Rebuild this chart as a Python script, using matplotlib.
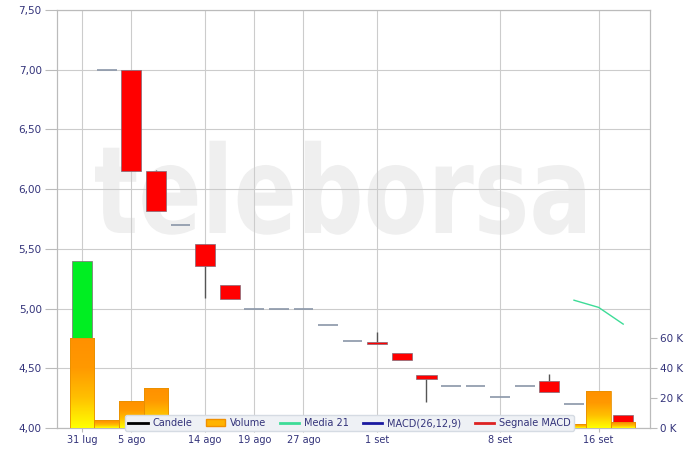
import numpy as np
import matplotlib.pyplot as plt
from matplotlib.lines import Line2D
from matplotlib.patches import Patch, PathPatch
from matplotlib.textpath import TextPath
from matplotlib.font_manager import FontProperties
from matplotlib.transforms import Affine2D
from matplotlib.colors import LinearSegmentedColormap


## DATA
tick_pos = [0, 2, 5, 7, 9, 12, 17, 21]
tick_labels = ["31 lug", "5 ago", "14 ago", "19 ago", "27 ago", "1 set", "8 set", "16 set"]

opens = [4.45, 7.00, 7.00, 6.15, 5.70, 5.54, 5.20, 5.00, 5.00, 5.00, 4.865, 4.725,
         4.722, 4.625, 4.446, 4.354, 4.354, 4.26, 4.354, 4.395, 4.20, 4.12, 4.11]
closes = [5.40, 7.00, 6.155, 5.818, 5.70, 5.356, 5.08, 5.00, 5.00, 5.00, 4.865, 4.725,
          4.70, 4.57, 4.41, 4.354, 4.354, 4.26, 4.354, 4.30, 4.20, 4.10, 4.05]
highs = [5.40, 7.00, 7.00, 6.16, 5.70, 5.54, 5.20, 5.00, 5.00, 5.00, 4.865, 4.725,
         4.806, 4.625, 4.446, 4.354, 4.354, 4.26, 4.354, 4.45, 4.20, 4.12, 4.11]
lows = [4.45, 7.00, 6.155, 5.818, 5.70, 5.085, 5.08, 5.00, 5.00, 5.00, 4.865, 4.725,
        4.70, 4.57, 4.22, 4.354, 4.354, 4.26, 4.354, 4.30, 4.20, 4.10, 4.05]
volumes = [60000, 5600, 18000, 26900, 0, 0, 0, 0, 0, 0, 0, 0,
           0, 0, 0, 0, 0, 0, 0, 0, 2700, 24700, 4200]

media21_x = [20, 21, 22]
media21 = [5.07, 5.01, 4.87]

price_ticks = [4.0, 4.5, 5.0, 5.5, 6.0, 6.5, 7.0, 7.5]
vol_ticks = [0, 20000, 40000, 60000]

txt_color = "#33337a"
grid_color = "#cccccc"

fig = plt.figure(figsize=(7, 4.51), dpi=100)
W, H = 700, 451
ax = fig.add_axes([57 / W, (H - 428) / H, 593 / W, 418 / H])

# watermark
prop = FontProperties(family="DejaVu Sans", weight="bold")
tp = TextPath((0, 0), "teleborsa", size=1, prop=prop)
ext = tp.get_extents()
x0, y0 = (95 - 57) / 593, (428 - 233) / 418
sx, sy = (490 / 593) / ext.width, (94 / 418) / ext.height
tr = Affine2D().translate(-ext.x0, 0).scale(sx, sy).translate(x0, y0)
ax.add_patch(PathPatch(tr.transform_path(tp), facecolor="#efefef", edgecolor="none",
                       transform=ax.transAxes, zorder=0.2))

# candles
x = np.arange(len(opens))
for i in x:
    o, c, h, l = opens[i], closes[i], highs[i], lows[i]
    top, bot = max(o, c), min(o, c)
    if h > top:
        ax.vlines(i, top, h, color="#555555", lw=1, zorder=3)
    if l < bot:
        ax.vlines(i, l, bot, color="#555555", lw=1, zorder=3)
    if abs(o - c) < 1e-6:
        ax.hlines(o, i - 0.4, i + 0.4, color="#8a96a8", lw=1.2, zorder=3)
    else:
        col = "#00ee22" if c > o else "#ff0000"
        ax.bar(i, top - bot, bottom=bot, width=0.82, color=col,
               edgecolor="#806a78", lw=0.5, zorder=4)

ax.plot(media21_x, media21, color="#3ddc97", lw=1, zorder=5)

ax.set_xlim(-1.02, 23.09)
ax.set_ylim(4.0, 7.5)
ax.set_yticks(price_ticks)
ax.set_yticklabels([f"{v:.2f}".replace(".", ",") for v in price_ticks])
ax.set_xticks(tick_pos)
ax.set_xticklabels(tick_labels)
ax.grid(True, color=grid_color, lw=0.8)
ax.tick_params(axis="y", colors="#bbbbbb", labelcolor=txt_color, labelsize=7.5, length=9, pad=2)
ax.tick_params(axis="x", colors="#bbbbbb", labelcolor=txt_color, labelsize=7, length=3, pad=2)
for s in ax.spines.values():
    s.set_color("#bbbbbb")

# volume with gradient bars (orange top, yellow bottom)
ax2 = ax.twinx()
vmax = 418 / 30 * 20000
grad = np.linspace(0, 1, 64).reshape(-1, 1)
cmap = LinearSegmentedColormap.from_list("vol", ["#ffff00", "#ffc000", "#ff9900", "#ff9000"])
bars = ax2.bar(x, volumes, width=1.0, facecolor="none", edgecolor="#e89000", lw=0.6, zorder=6)
for b, v in zip(bars, volumes):
    if v <= 0:
        continue
    im = ax2.imshow(grad, extent=(b.get_x(), b.get_x() + b.get_width(), 0, v),
                    origin="lower", aspect="auto", cmap=cmap, zorder=5)
    im.set_clip_path(b)
ax2.set_xlim(-1.02, 23.09)
ax2.set_ylim(0, vmax)
ax2.set_yticks(vol_ticks)
ax2.set_yticklabels([f"{int(v / 1000)} K" for v in vol_ticks])
ax2.tick_params(axis="y", colors="#bbbbbb", labelcolor=txt_color, labelsize=7.5, length=5, pad=2)
for s in ax2.spines.values():
    s.set_color("#bbbbbb")

# legend
handles = [
    Line2D([], [], color="black", lw=2),
    Patch(facecolor="#ffb300", edgecolor="#f09000"),
    Line2D([], [], color="#3ddc97", lw=2),
    Line2D([], [], color="#1a1aa0", lw=2),
    Line2D([], [], color="#dd2222", lw=2),
]
labels = ["Candele", "Volume", "Media 21", "MACD(26,12,9)", "Segnale MACD"]
leg = ax2.legend(handles, labels, ncol=5, loc="center",
                 bbox_to_anchor=((120 + 579) / 2 / W, (H - 423) / H),
                 bbox_transform=fig.transFigure, fontsize=7, frameon=True,
                 handlelength=2.0, handletextpad=0.5, columnspacing=1.4,
                 borderpad=0.35, fancybox=True, labelcolor=txt_color)
leg.get_frame().set_facecolor("#eef1f5")
leg.get_frame().set_edgecolor("#d5dbe3")
leg.get_frame().set_alpha(1)
leg.set_zorder(20)

fig.savefig("out.png", dpi=100)
